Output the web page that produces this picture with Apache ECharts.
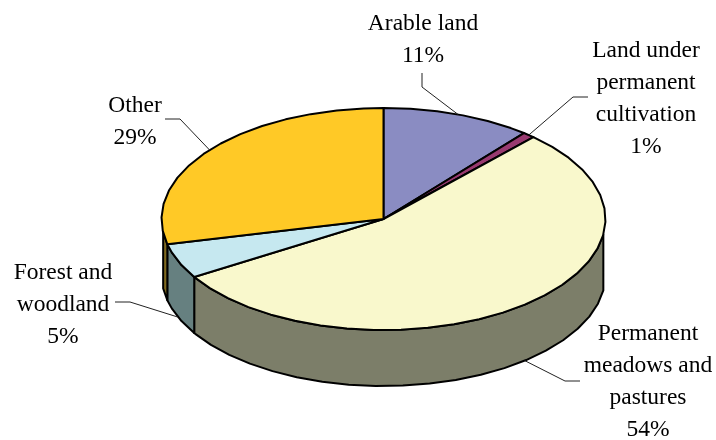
<!DOCTYPE html>
<html>
<head>
<meta charset="utf-8">
<style>
  html, body { margin: 0; padding: 0; background: #fff; }
  #chart { width: 716px; height: 440px; }
</style>
<script src="https://cdn.jsdelivr.net/npm/echarts@6/dist/echarts.min.js"></script>
</head>
<body>
<div id="chart"></div>
<script>
  const categories = [
    "Arable land",
    "Land under\npermanent\ncultivation",
    "Permanent\nmeadows and\npastures",
    "Forest and\nwoodland",
    "Other"
  ];
  const shares = [10.9, 0.9, 54.45, 5.1, 28.65];

  const topColors = ["#8a8cc2", "#993a70", "#f9f8cc", "#c6e8f0", "#ffc926"];
  const sideColors = ["#45467a", "#4d1d38", "#7c7e69", "#668080", "#806a20"];

  // Label centre (first line) and leader elbow / free end for each slice
  const labelCenters = [[423, 24], [646, 51], [648, 334], [63, 273], [135, 106]];
  const leaderEnds = [[422, 73], [588, 97], [580, 381], [115, 302], [165, 119]];
  const leaderElbows = [[422, 87], [573, 97], [565, 381], [130, 302], [180, 119]];

  // Pie projection: angle is clockwise from 12 o'clock, degrees
  const CX = 383.5, CY = 219, RX = 222, RY = 111, DEPTH = 56;
  const FRONT_FROM = 98, FRONT_TO = 263;   // part of the rim where the wall shows
  const ARC_STEP = 7;                      // rim is a coarse polyline in the original
  const LINE_H = 32;

  const total = shares.reduce((a, b) => a + b, 0);
  const starts = [];
  shares.reduce((acc, v, i) => { starts[i] = acc; return acc + v; }, 0);

  const toDeg = v => v / total * 360;

  function rim(deg, dy) {
    const r = deg * Math.PI / 180;
    return [CX + RX * Math.sin(r), CY - RY * Math.cos(r) + (dy || 0)];
  }

  function arc(from, to, dy) {
    const pts = [];
    for (let a = from; a < to; a += ARC_STEP) pts.push(rim(a, dy));
    pts.push(rim(to, dy));
    return pts;
  }

  const edge = { stroke: "#000", lineWidth: 2, lineJoin: "round" };

  function renderTop(params, api) {
    const i = api.value(0);
    const from = toDeg(starts[i]);
    const to = toDeg(starts[i] + shares[i]);
    return {
      type: "polygon",
      shape: { points: [[CX, CY]].concat(arc(from, to)) },
      style: Object.assign({ fill: topColors[i] }, edge)
    };
  }

  function renderSide(params, api) {
    const i = api.value(0);
    const from = Math.max(toDeg(starts[i]), FRONT_FROM);
    const to = Math.min(toDeg(starts[i] + shares[i]), FRONT_TO);
    if (to <= from) return null;
    return {
      type: "polygon",
      shape: { points: arc(from, to).concat(arc(from, to, DEPTH).reverse()) },
      style: Object.assign({ fill: sideColors[i] }, edge)
    };
  }

  function renderLeader(params, api) {
    const i = api.value(0);
    const mid = toDeg(starts[i] + shares[i] / 2);
    const front = mid > FRONT_FROM && mid < FRONT_TO;
    return {
      type: "polyline",
      shape: { points: [leaderEnds[i], leaderElbows[i], rim(mid, front ? DEPTH : 0)] },
      style: { fill: null, stroke: "#222", lineWidth: 1 }
    };
  }

  function renderLabel(params, api) {
    const i = api.value(0);
    return {
      type: "text",
      x: labelCenters[i][0],
      y: labelCenters[i][1] - LINE_H / 2,
      style: {
        text: categories[i] + "\n" + Math.round(shares[i]) + "%",
        fill: "#000",
        font: '23.5px "Liberation Serif"',
        lineHeight: LINE_H,
        align: "center",
        verticalAlign: "top"
      }
    };
  }

  const rows = shares.map((v, i) => [i, v]);
  const layer = (name, renderItem, z) => ({
    name, type: "custom", coordinateSystem: "none",
    data: rows, renderItem, z, silent: true
  });

  const chart = echarts.init(document.getElementById("chart"), null, { renderer: "canvas" });
  chart.setOption({
    animation: false,
    backgroundColor: "#fff",
    series: [
      layer("side", renderSide, 1),
      layer("top", renderTop, 2),
      layer("leader", renderLeader, 3),
      layer("label", renderLabel, 4)
    ]
  });
</script>
</body>
</html>
